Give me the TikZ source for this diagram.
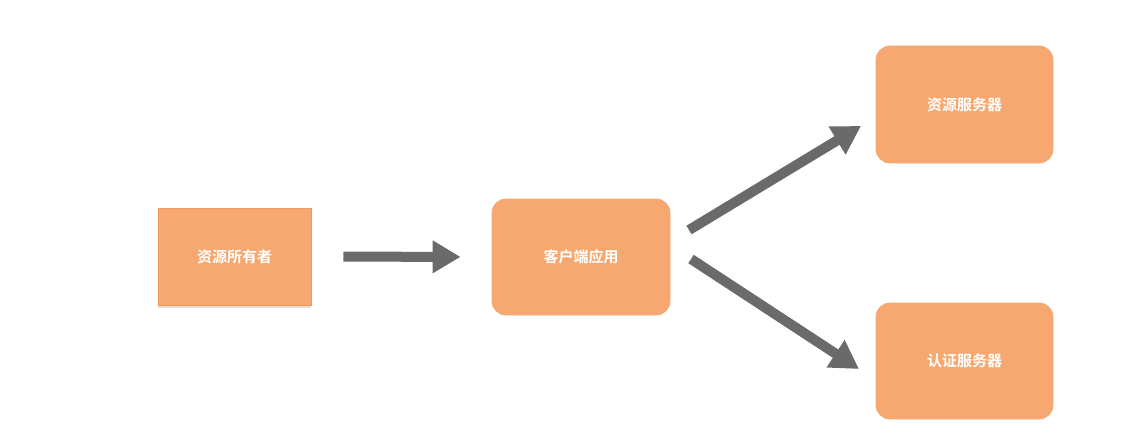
\documentclass[tikz,border=0pt]{standalone}
\usepackage{fontspec}
\newfontfamily\cjk{Noto Sans CJK SC}[BoldFont={* Bold}]
\usetikzlibrary{arrows.meta,shadows}
\definecolor{boxfill}{HTML}{F6A870}
\definecolor{boxedge}{HTML}{EE9A5E}
\definecolor{arrowgray}{HTML}{6A6A6A}
\tikzset{
  box/.style={fill=boxfill, draw=boxedge, line width=0.8pt, text=white,
    font=\cjk\bfseries\fontsize{15}{17}\selectfont, inner sep=0pt},
  roundbox/.style={box, rounded corners=14pt, draw=boxfill},
  flow/.style={draw=arrowgray, line width=10pt,
    -{Triangle[length=28pt,width=31pt]}}
}
\begin{document}
\begin{tikzpicture}[x=1pt,y=-1pt]
\useasboundingbox (0,0) rectangle (1148,433);
% resource owner (square corners, soft shadow)
\node[box, minimum width=153pt, minimum height=97pt,
  drop shadow={shadow xshift=0pt, shadow yshift=-3pt, opacity=0.25, fill=gray}]
  (owner) at (234.5,256.5) {资源所有者};
% client application
\node[roundbox, minimum width=178pt, minimum height=116pt]
  (client) at (581,257) {客户端应用};
% servers
\node[roundbox, minimum width=177pt, minimum height=117pt]
  (rs) at (964.5,104.5) {资源服务器};
\node[roundbox, minimum width=177pt, minimum height=116pt]
  (as) at (964.5,361) {认证服务器};
% arrow end points
\coordinate (c2rsA) at (689,230);
\coordinate (c2rsB) at (861,126);
\coordinate (c2asA) at (691,259);
\coordinate (c2asB) at (859,369);
% connectors
\draw[flow, shorten <=32pt, shorten >=31pt] (owner.east) -- (client.west);
\draw[flow] (c2rsA) -- (c2rsB);
\draw[flow] (c2asA) -- (c2asB);
\end{tikzpicture}
\end{document}
